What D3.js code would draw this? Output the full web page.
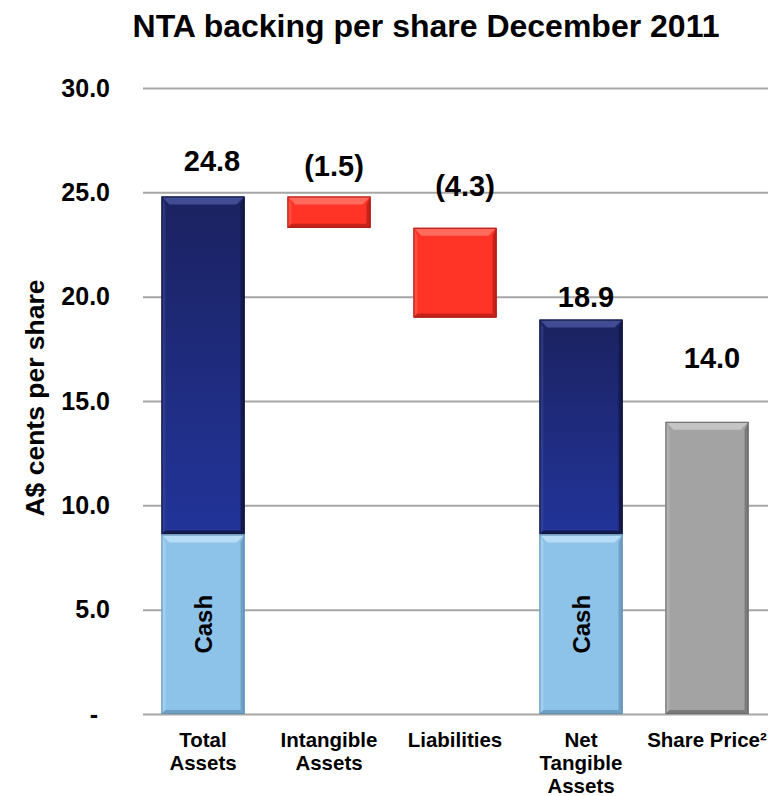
<!DOCTYPE html>
<html>
<head>
<meta charset="utf-8">
<script src="https://cdn.jsdelivr.net/npm/d3@7"></script>
<style>
  html, body { margin: 0; padding: 0; background: #fff; }
  svg { display: block; font-family: "Liberation Sans", Arial, sans-serif; }
</style>
</head>
<body>
<svg id="chart" width="771" height="796"></svg>
<script>
// NTA waterfall, A$ cents per share
const categories = ["Total Assets", "Intangible Assets", "Liabilities", "Net Tangible Assets", "Share Price²"];
const categoryLines = [["Total", "Assets"], ["Intangible", "Assets"], ["Liabilities"], ["Net", "Tangible", "Assets"], ["Share Price²"]];
const kinds = ["total", "step", "step", "total", "price"];
const values = [24.8, -1.5, -4.3, 18.9, 14.0];
const valueLabels = ["24.8", "(1.5)", "(4.3)", "18.9", "14.0"];
const cashValues = [8.6, null, null, 8.6, null];
const yTicks = [0, 5, 10, 15, 20, 25, 30];

const svg = d3.select("#chart");
const plotLeft = 143, plotRight = 768, plotTop = 88, plotBottom = 714;

const x = d3.scaleBand().domain(categories).range([140, 770]).paddingInner(0.34).paddingOuter(0.17);
const y = d3.scaleLinear().domain([0, 30]).range([plotBottom, plotTop]);

// gradients
const defs = svg.append("defs");
const navy = defs.append("linearGradient").attr("id", "navy").attr("x1", 0).attr("y1", 0).attr("x2", 0).attr("y2", 1);
navy.append("stop").attr("offset", "0%").attr("stop-color", "#1b2260");
navy.append("stop").attr("offset", "100%").attr("stop-color", "#22349a");

// title
svg.append("text").attr("x", 426).attr("y", 37).attr("text-anchor", "middle")
  .attr("font-size", 32).attr("font-weight", "bold").attr("fill", "#000")
  .text("NTA backing per share December 2011");

// y axis title
svg.append("text").attr("transform", `translate(44,${(plotTop + plotBottom) / 2 - 3}) rotate(-90)`)
  .attr("text-anchor", "middle").attr("font-size", 26.5).attr("font-weight", "bold")
  .text("A$ cents per share");

// gridlines + tick labels
const yAxis = d3.axisLeft(y).tickValues(yTicks).tickSize(-(plotRight - plotLeft)).tickPadding(33)
  .tickFormat(d => d === 0 ? "-" : d.toFixed(1));
const gy = svg.append("g").attr("transform", `translate(${plotLeft},0)`).call(yAxis);
gy.select(".domain").remove();
gy.selectAll(".tick line").attr("stroke", "#a6a6a6").attr("stroke-width", 2);
gy.selectAll(".tick text").attr("font-size", 25).attr("font-weight", "bold").attr("fill", "#000")
  .attr("font-family", "'Liberation Sans', Arial, sans-serif")
  .attr("dx", d => d === 0 ? -12 : 0);

// bevelled bar
function bevelBar(g, x0, y0, w, h, fill, light, dark, darker) {
  const b = Math.min(8, h / 3), s = 4;
  g.append("rect").attr("x", x0).attr("y", y0).attr("width", w).attr("height", h).attr("fill", fill);
  // top bevel
  g.append("path").attr("d", `M${x0},${y0}L${x0 + w},${y0}L${x0 + w - b},${y0 + b}L${x0 + b},${y0 + b}Z`).attr("fill", light);
  // left bevel
  g.append("path").attr("d", `M${x0},${y0}L${x0 + s},${y0 + b}L${x0 + s},${y0 + h - s}L${x0},${y0 + h}Z`).attr("fill", light).attr("opacity", 0.45);
  // right bevel
  g.append("path").attr("d", `M${x0 + w},${y0}L${x0 + w},${y0 + h}L${x0 + w - s},${y0 + h - s}L${x0 + w - s},${y0 + b}Z`).attr("fill", dark);
  // bottom bevel
  g.append("path").attr("d", `M${x0},${y0 + h}L${x0 + w},${y0 + h}L${x0 + w - s},${y0 + h - s}L${x0 + s},${y0 + h - s}Z`).attr("fill", dark);
  g.append("rect").attr("x", x0 + 0.5).attr("y", y0 + 0.5).attr("width", w - 1).attr("height", h - 1)
    .attr("fill", "none").attr("stroke", darker).attr("stroke-width", 1);
}

// running waterfall positions
let running = 0;
const bars = categories.map((c, i) => {
  let lo, hi;
  if (kinds[i] === "step") { hi = running; lo = running + values[i]; running = lo; }
  else { lo = 0; hi = values[i]; running = kinds[i] === "total" ? values[i] : running; }
  return { c, i, lo, hi };
});

const gb = svg.append("g");
bars.forEach(d => {
  const bx = x(d.c), bw = x.bandwidth();
  const g = gb.append("g");
  if (kinds[d.i] === "total") {
    const cash = cashValues[d.i];
    bevelBar(g, bx, y(d.hi), bw, y(cash) - y(d.hi), "url(#navy)", "#414c94", "#141a4a", "#10153c");
    bevelBar(g, bx, y(cash), bw, y(0) - y(cash), "#8ec3e9", "#b7ddf6", "#6e9fc4", "#5f8fb3");
    g.append("text").attr("transform", `translate(${bx + bw / 2 + 9},${(y(cash) + y(0)) / 2}) rotate(-90)`)
      .attr("text-anchor", "middle").attr("font-size", 24).attr("font-weight", "bold").text("Cash");
  } else if (kinds[d.i] === "step") {
    bevelBar(g, bx, y(d.hi), bw, y(d.lo) - y(d.hi), "#ff3326", "#ff6a5c", "#c7221a", "#a51c15");
  } else {
    bevelBar(g, bx, y(d.hi), bw, y(d.lo) - y(d.hi), "#a3a3a3", "#c4c4c4", "#7a7a7a", "#6a6a6a");
  }
});

// value labels (baseline lift above each bar top and sideways nudge, in px)
const labelLift = [26, 21, 32, 13, 54];
const labelNudge = [9, 5, 10, 5, 5];
bars.forEach(d => {
  svg.append("text").attr("x", x(d.c) + x.bandwidth() / 2 + labelNudge[d.i]).attr("y", y(Math.max(d.hi, d.lo)) - labelLift[d.i])
    .attr("text-anchor", "middle").attr("font-size", 29).attr("font-weight", "bold").text(valueLabels[d.i]);
});

// category labels
categories.forEach((c, i) => {
  const t = svg.append("text").attr("x", x(c) + x.bandwidth() / 2).attr("y", 747)
    .attr("text-anchor", "middle").attr("font-size", 20.5).attr("font-weight", "bold");
  categoryLines[i].forEach((ln, k) => t.append("tspan").attr("x", x(c) + x.bandwidth() / 2).attr("dy", k === 0 ? 0 : 23).text(ln));
});
</script>
</body>
</html>
